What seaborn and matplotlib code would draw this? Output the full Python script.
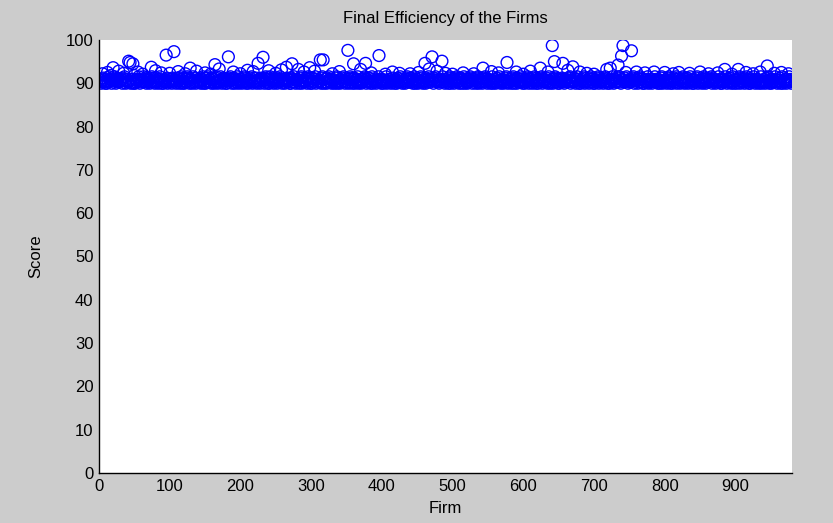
import numpy as np
import matplotlib
matplotlib.use("Agg")
import matplotlib.pyplot as plt
import seaborn as sns

# baseline scores, one digit per firm (score = 90 + 0.3 * digit), firms 1..980
band_rows = [
    "3102541302 0415236021 3520143012 2304152031 1425031206 0312453012 2051340213 3012524103 1420351302 0231540123",
    "1304251302 4120351024 0213542031 3051240312 2140325013 0425131204 3102452013 1530241302 0214352031 4013250214",
    "2031452013 0324150312 1402531024 3120451302 0513240213 2041352103 1302541320 0421351032 3102450213 1240351302",
    "0413250312 2130452031 1042531302 3201450123 0314252013 1203541032 4021350213 0132452031 2410350312 1023541302",
    "3021450213 1302541023 0241351302 2103451320 1420350213 0312541032 2041350312 1304252013 0213451302 3120450231",
    "1032451302 2403150213 0132542031 3201450312 1024351302 2310450213 0142351032 3021452013 1302450231 0412351302",
    "2013452031 1304251023 0321450213 2140352013 1032541302 0213451032 3102450213 1420351302 0231450123 2104351302",
    "0312450213 1203451302 2041352031 3120451023 0214352013 1302450231 2013541302 0421350213 1032451320 3201450213",
    "1302451023 0214350312 2031452013 1402351302 0321450213 2103541032 1024350213 3012451302 0231452013 1420351032",
    "2031450213 1304251302 0213451032 3102450213 1024352031 0312451302 2140350213 1032451302",
]

# firms sticking out above the band
mid_firms = [5, 12, 20, 28, 35, 48, 55, 62, 74, 80, 88, 100, 112, 122, 129, 138, 150, 158,
             164, 170, 190, 200, 210, 218, 225, 240, 250, 258, 265, 273, 282, 290, 298, 305,
             330, 340, 360, 370, 377, 385, 405, 415, 425, 440, 452, 461, 467, 478, 490, 500,
             515, 530, 543, 555, 565, 590, 600, 610, 624, 635, 656, 663, 670, 680, 690, 700,
             718, 723, 745, 760, 772, 785, 800, 812, 820, 835, 850, 862, 875, 885, 895, 904,
             915, 925, 935, 945, 955, 965, 975]
mid_scores = [92.2, 92.5, 93.6, 92.8, 92.3, 94.5, 92.6, 92.1, 93.7, 92.9, 92.4, 92.3, 92.7, 92.2,
              93.5, 92.8, 92.4, 92.1, 94.3, 93.3, 92.6, 92.2, 93.0, 92.7, 94.6, 92.9, 92.3, 93.1,
              93.7, 94.5, 93.2, 92.6, 93.6, 92.8, 92.2, 92.7, 94.5, 93.2, 94.6, 92.4, 92.1, 92.6,
              92.3, 92.2, 92.5, 94.6, 93.3, 92.8, 92.3, 92.1, 92.4, 92.2, 93.5, 92.7, 92.4, 92.6,
              92.1, 92.8, 93.5, 92.6, 94.6, 93.0, 93.8, 92.6, 92.3, 92.1, 93.2, 93.5, 92.5, 92.6,
              92.4, 92.6, 92.5, 92.2, 92.5, 92.3, 92.6, 92.2, 92.4, 93.2, 92.1, 93.2, 92.5, 92.2,
              92.6, 94.0, 92.3, 92.5, 92.2]

high_firms = [42, 44, 95, 106, 183, 232, 313, 317, 352, 396, 471, 485, 577, 641, 644, 734, 739, 741, 753]
high_scores = [95.1, 94.8, 96.5, 97.3, 96.1, 96.0, 95.4, 95.4, 97.6, 96.4, 96.1, 95.1, 94.8,
               98.7, 95.0, 94.2, 96.3, 98.7, 97.5]

digits = "".join(band_rows).replace(" ", "")
scores = np.array([90 + 0.3 * int(c) for c in digits])
for f, s in zip(mid_firms + high_firms, mid_scores + high_scores):
    scores[f - 1] = s
firms = np.arange(1, len(scores) + 1)

sns.set_style("white")
plt.rcParams["font.family"] = ["Liberation Sans", "DejaVu Sans"]
plt.rcParams["text.color"] = "black"
plt.rcParams["axes.labelcolor"] = "black"

fig = plt.figure(figsize=(8.33, 5.23), dpi=100, facecolor="#cccccc")
ax = fig.add_axes([0.1188, 0.0956, 0.832, 0.828])
ax.set_facecolor("white")

sns.scatterplot(x=firms, y=scores, ax=ax, marker="o", s=72,
                facecolor="none", edgecolor="#0000ff", linewidth=1.0)

ax.set_xlim(0, 980)
ax.set_ylim(0, 100)
ax.set_xticks(range(0, 1000, 100))
ax.set_yticks(range(0, 101, 10))
ax.tick_params(direction="in", length=5, width=1, labelsize=12, colors="black", pad=4)
for side in ["top", "right"]:
    ax.spines[side].set_visible(False)
for side in ["left", "bottom"]:
    ax.spines[side].set_color("black")
    ax.spines[side].set_linewidth(1)

ax.set_title("Final Efficiency of the Firms", fontsize=12, pad=12, color="black")
ax.set_xlabel("Firm", fontsize=12, labelpad=5)
ax.set_ylabel("Score", fontsize=12, labelpad=16)

fig.savefig("out.png", dpi=100, facecolor=fig.get_facecolor())
